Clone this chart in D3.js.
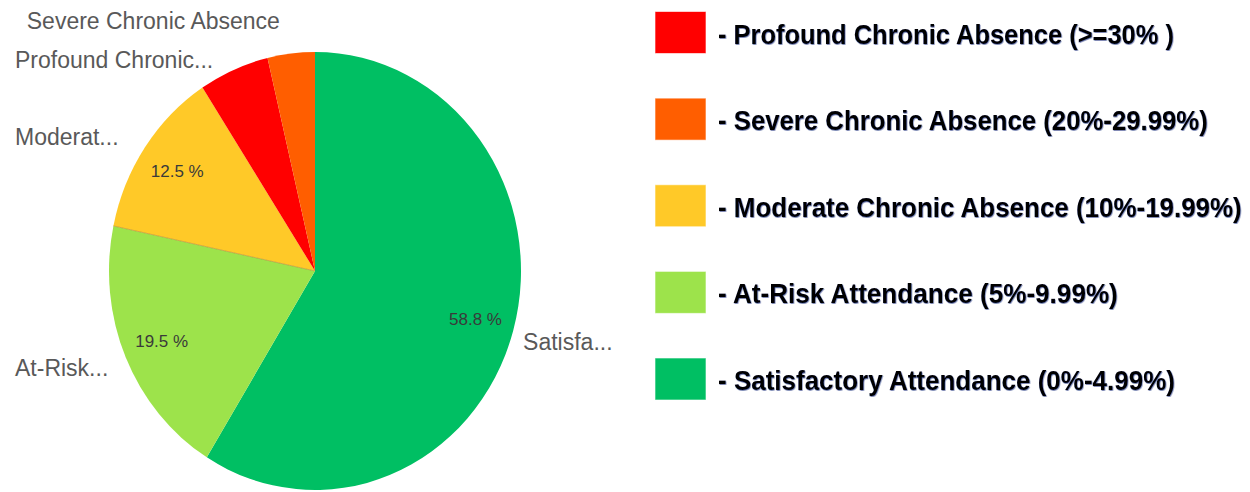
<!DOCTYPE html>
<html>
<head>
<meta charset="utf-8">
<script src="https://cdn.jsdelivr.net/npm/d3@7"></script>
<style>
  html, body { margin: 0; padding: 0; background: #ffffff; overflow: hidden; }
  svg { display: block; }
</style>
</head>
<body>
<svg id="chart" width="1250" height="492"></svg>
<script>
// ---- data ----
const categories = ["Satisfactory Attendance", "At-Risk Attendance", "Moderate Chronic Absence", "Profound Chronic Absence", "Severe Chronic Absence"];
const values = [58.8, 19.5, 12.5, 5.5, 3.7];
const sliceLabels = ["Satisfa...", "At-Risk...", "Moderat...", "Profound Chronic...", "Severe Chronic Absence"];
const colors = ["#00bf63", "#9de34b", "#ffc928", "#ff0000", "#ff5e00"];
const legendCategories = ["Profound Chronic Absence", "Severe Chronic Absence", "Moderate Chronic Absence", "At-Risk Attendance", "Satisfactory Attendance"];
const legendLabels = ["- Profound Chronic Absence (>=30% )", "- Severe Chronic Absence (20%-29.99%)", "- Moderate Chronic Absence (10%-19.99%)", "- At-Risk Attendance (5%-9.99%)", "- Satisfactory Attendance (0%-4.99%)"];
const legendWidths = [456, 490, 524, 400, 457];

// ---- layout ----
const svg = d3.select("#chart");
const cx = 315, cy = 271, rx = 206, ry = 219;
const color = d3.scaleOrdinal().domain(categories).range(colors);

const data = categories.map((c, i) => ({ cat: c, value: values[i], label: sliceLabels[i] }));
const pie = d3.pie().sort(null).value(d => d.value).startAngle(0).endAngle(2 * Math.PI);
const arcs = pie(data);
const arc = d3.arc().innerRadius(0).outerRadius(ry);

const g = svg.append("g").attr("transform", `translate(${cx},${cy}) scale(${rx / ry},1)`);
g.selectAll("path").data(arcs).enter().append("path")
  .attr("d", arc)
  .attr("fill", d => color(d.data.cat));

// thin separator line seen between yellow and light green
g.selectAll("line.sep").data(arcs.filter(d => d.data.cat === "Moderate Chronic Absence")).enter()
  .append("line")
  .attr("x1", 0).attr("y1", 0)
  .attr("x2", d => Math.sin(d.startAngle) * ry)
  .attr("y2", d => -Math.cos(d.startAngle) * ry)
  .attr("stroke", "#b08a3a").attr("stroke-width", 1).attr("stroke-opacity", 0.6);

const pt = (a, k) => [cx + Math.sin(a) * rx * k, cy - Math.cos(a) * ry * k];

// percentage labels inside
svg.selectAll("text.pct").data(arcs.filter(d => d.data.value >= 10)).enter()
  .append("text")
  .attr("class", "pct")
  .attr("x", d => pt((d.startAngle + d.endAngle) / 2, 0.81)[0])
  .attr("y", d => pt((d.startAngle + d.endAngle) / 2, 0.81)[1])
  .attr("dy", "0.35em")
  .attr("text-anchor", "middle")
  .attr("font-family", "'Liberation Sans', Arial, sans-serif")
  .attr("font-size", 17)
  .attr("fill", "#3a3a3a")
  .text(d => d3.format(".1f")(d.data.value) + " %");

// outside labels with simple collision avoidance
const outer = arcs.map(d => {
  const m = (d.startAngle + d.endAngle) / 2;
  const p = pt(m, 1.05);
  const edgeY = pt(m, 1)[1];
  return { d, m, x: p[0], y: edgeY + (Math.cos(m) > 0 ? -10 : 11), left: Math.sin(m) < 0 };
});
const leftLabels = outer.filter(o => o.left).sort((a, b) => b.y - a.y);
for (let i = 1; i < leftLabels.length; i++) {
  leftLabels[i].y = Math.min(leftLabels[i].y, leftLabels[i - 1].y - 39);
}
svg.selectAll("text.out").data(outer).enter()
  .append("text")
  .attr("class", "out")
  .attr("font-family", "'Liberation Sans', Arial, sans-serif")
  .attr("font-size", 23)
  .attr("fill", "#595959")
  .attr("dy", "0.35em")
  .attr("y", o => o.y)
  .each(function (o) {
    const t = d3.select(this);
    const truncated = o.d.data.label.endsWith("...");
    if (o.left) {
      if (truncated) t.attr("x", 15).attr("text-anchor", "start");
      else t.attr("x", o.x - 10).attr("text-anchor", "end");
    } else {
      t.attr("x", o.x).attr("text-anchor", "start");
    }
  })
  .text(o => o.d.data.label);

// ---- legend ----
const defs = svg.append("defs");
const f = defs.append("filter").attr("id", "shadow").attr("x", "-1%").attr("y", "-15%").attr("width", "102%").attr("height", "130%");
f.append("feDropShadow").attr("dx", 0.6).attr("dy", 0.8).attr("stdDeviation", 0.7)
  .attr("flood-color", "#1a2f7a").attr("flood-opacity", 0.7);

const ly = d3.scalePoint().domain(legendCategories).range([32.5, 379]);
const leg = svg.append("g").selectAll("g").data(legendCategories).enter().append("g")
  .attr("transform", d => `translate(655,${ly(d)})`);
leg.append("rect")
  .attr("x", 0).attr("y", -21).attr("width", 51).attr("height", 42)
  .attr("fill", d => color(d))
  .attr("stroke", "#ffffff").attr("stroke-opacity", 0.6);
leg.append("text")
  .attr("x", 0).attr("y", 0)
  .attr("font-family", "'Liberation Sans', Arial, sans-serif")
  .attr("font-weight", "bold")
  .attr("font-size", 27)
  .attr("fill", "#000000")
  .attr("filter", "url(#shadow)")
  .text((d, i) => legendLabels[i])
  .each(function (d, i) {
    const natural = this.getComputedTextLength();
    const sx = legendWidths[i] / natural;
    d3.select(this).attr("transform", `translate(63,11) scale(${sx},1)`);
  });
</script>
</body>
</html>
